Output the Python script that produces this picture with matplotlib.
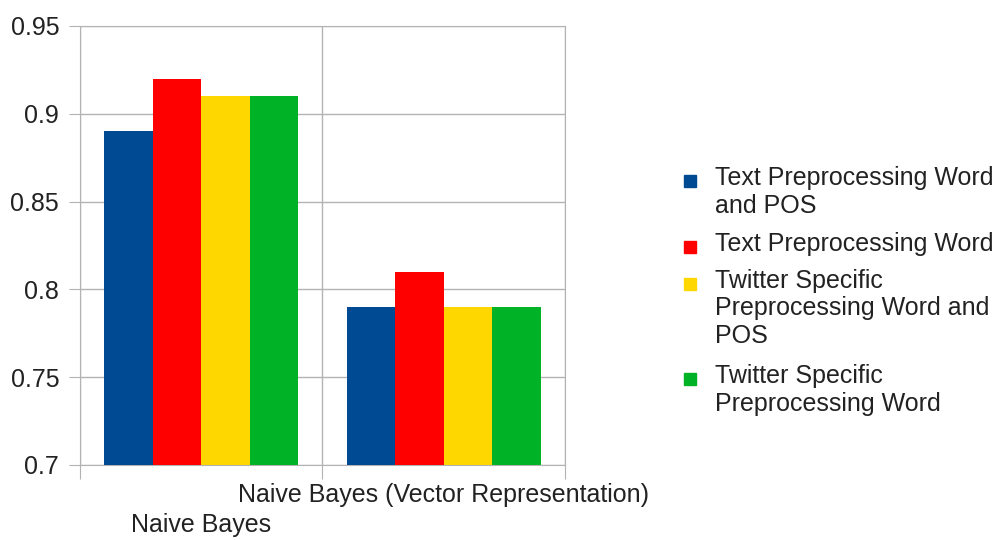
import matplotlib
matplotlib.use("Agg")
import matplotlib.pyplot as plt
from matplotlib.lines import Line2D
import numpy as np

plt.rcParams['font.family'] = ['Liberation Sans', 'DejaVu Sans']

categories = ["Naive Bayes", "Naive Bayes (Vector Representation)"]
series_names = ["Text Preprocessing Word\nand POS",
                "Text Preprocessing Word",
                "Twitter Specific\nPreprocessing Word and\nPOS",
                "Twitter Specific\nPreprocessing Word"]
values = [
    [0.89, 0.79],
    [0.92, 0.81],
    [0.91, 0.79],
    [0.91, 0.79],
]
colors = ["#004a93", "#ff0000", "#ffd700", "#00b226"]
yticks = [0.7, 0.75, 0.8, 0.85, 0.9, 0.95]
ytick_labels = ["0.7", "0.75", "0.8", "0.85", "0.9", "0.95"]

W, H = 997, 540
fig = plt.figure(figsize=(W / 100, H / 100), dpi=100)
ax = fig.add_axes([0.0802, 0.139, 0.4865, 0.813])

fs = 18
txt_c = "#222222"
grid_c = "#b3b3b3"
centers = np.arange(len(categories)) + 0.5
bw = 0.2
for i, (vals, c) in enumerate(zip(values, colors)):
    ax.bar(centers + (i - 1.5) * bw, vals, width=bw, color=c, zorder=3, linewidth=0)

ax.set_xlim(0, len(categories))
ax.set_ylim(0.7, 0.95)
ax.set_yticks(yticks)
ax.set_yticklabels(ytick_labels, fontsize=fs, color=txt_c)
ax.yaxis.grid(True, color=grid_c, linewidth=1, zorder=0)
ax.set_xticks(np.arange(len(categories) + 1))
ax.set_xticklabels([])
ax.xaxis.grid(True, color=grid_c, linewidth=1, zorder=0)
ax.tick_params(axis='x', which='major', length=10, color=grid_c)
ax.tick_params(axis='y', length=8, color=grid_c, pad=7)
for s in ax.spines.values():
    s.set_color(grid_c)

# staggered category labels
trans = ax.get_xaxis_transform()
pads_px = [48, 18]
for x, name, p in zip(centers, categories, pads_px):
    ax.annotate(name, xy=(x, 0), xycoords=trans, xytext=(0, -p),
                textcoords='offset pixels', ha='center', va='top',
                fontsize=fs, color=txt_c, annotation_clip=False)

# legend: marker aligned with the first line of each entry
marker_x = 690 / W
text_x = 715 / W
line_px = 29.5
gap_px = 7
y_px = 181
for name, c in zip(series_names, colors):
    fig.add_artist(Line2D([marker_x], [1 - y_px / H], marker='s', linestyle='',
                          markersize=9, markerfacecolor=c, markeredgecolor=c,
                          transform=fig.transFigure))
    fig.text(text_x, 1 - (y_px - line_px / 2) / H, name, fontsize=fs, color=txt_c,
             va='top', ha='left', linespacing=1.18)
    y_px += line_px * (name.count("\n") + 1) + gap_px

fig.savefig("out.png", dpi=100)
